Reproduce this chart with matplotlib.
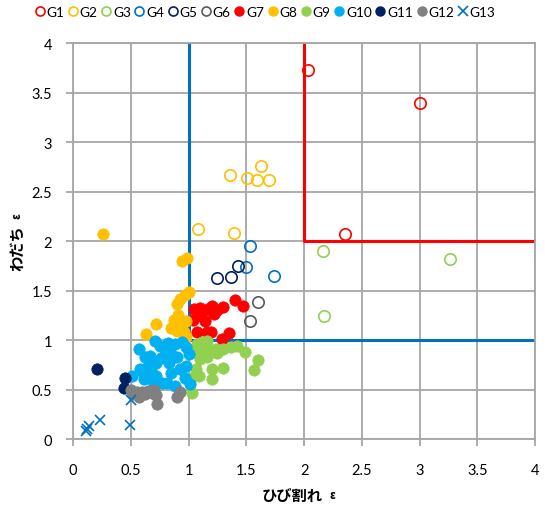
import matplotlib
matplotlib.use("Agg")
import matplotlib.pyplot as plt
from matplotlib.lines import Line2D

plt.rcParams['font.family'] = ['Lato', 'Noto Sans CJK JP', 'DejaVu Sans']

# ---- data ----
g1_x = [2.03, 3.00, 2.35]
g1_y = [3.73, 3.39, 2.07]
g2_x = [1.36, 1.51, 1.63, 1.59, 1.70, 1.08, 1.39]
g2_y = [2.67, 2.64, 2.76, 2.62, 2.62, 2.12, 2.08]
g3_x = [2.16, 2.17, 3.26]
g3_y = [1.90, 1.24, 1.82]
g4_x = [1.53, 1.50, 1.74]
g4_y = [1.95, 1.74, 1.65]
g5_x = [1.25, 1.37, 1.43]
g5_y = [1.63, 1.64, 1.75]
g6_x = [1.60, 1.53]
g6_y = [1.38, 1.19]
g7_x = [1.05, 1.10, 1.20, 1.22, 1.30, 1.40, 1.47, 1.04, 1.14, 1.07, 1.16, 1.19,
        1.29, 1.35, 1.12, 1.17, 1.09, 1.25]
g7_y = [1.31, 1.32, 1.34, 1.26, 1.33, 1.40, 1.34, 1.20, 1.19, 1.08, 1.08, 1.08,
        1.01, 1.07, 1.28, 1.31, 1.25, 1.30]
g8_x = [1.00, 0.97, 0.93, 0.90, 0.91, 0.87, 0.88, 0.94, 0.98, 0.85, 0.90, 0.96,
        0.72, 0.63, 0.98, 0.26, 0.94, 0.99]
g8_y = [1.48, 1.45, 1.41, 1.36, 1.25, 1.20, 1.15, 1.16, 1.19, 1.12, 1.09, 1.08,
        1.16, 1.06, 1.03, 2.07, 1.80, 1.83]
g9_x = [1.07, 1.16, 1.20, 1.24, 1.30, 1.37, 1.42, 1.49, 1.60, 1.57, 1.30, 1.20,
        1.20, 1.09, 1.06, 1.10, 1.16, 1.03, 1.05, 1.10, 1.02, 1.15, 1.25, 1.12]
g9_y = [0.96, 0.99, 0.89, 0.91, 0.91, 0.93, 0.94, 0.88, 0.80, 0.70, 0.72, 0.71,
        0.61, 0.64, 0.71, 0.81, 0.83, 0.46, 0.88, 0.93, 0.62, 0.88, 0.87, 0.98]
g10_x = [0.57, 0.62, 0.67, 0.71, 0.75, 0.80, 0.84, 0.88, 0.94, 0.98, 1.00, 0.65,
         0.72, 0.68, 0.60, 0.61, 0.72, 0.77, 0.85, 0.81, 0.88, 0.97, 0.98, 1.01,
         0.51, 0.83, 0.90, 0.93, 0.58, 0.82, 0.69, 0.76]
g10_y = [0.91, 0.83, 0.84, 0.99, 0.94, 0.91, 0.88, 0.96, 0.98, 0.93, 0.86, 0.74,
         0.77, 0.67, 0.69, 0.61, 0.64, 0.57, 0.67, 0.57, 0.54, 0.62, 0.74, 0.56,
         0.64, 0.77, 0.83, 0.71, 0.71, 0.97, 0.59, 0.82]
g11_x = [0.21, 0.45, 0.44]
g11_y = [0.71, 0.62, 0.52]
g12_x = [0.50, 0.52, 0.55, 0.57, 0.60, 0.62, 0.65, 0.68, 0.70, 0.72, 0.73, 0.90, 0.93]
g12_y = [0.50, 0.45, 0.47, 0.42, 0.47, 0.45, 0.48, 0.46, 0.50, 0.44, 0.35, 0.42, 0.47]
g13_x = [0.11, 0.12, 0.14, 0.23, 0.49, 0.50]
g13_y = [0.08, 0.10, 0.13, 0.19, 0.14, 0.39]

blue_x = [1, 1, 4]
blue_y = [4, 1, 1]
red_x = [2, 2, 4]
red_y = [4, 2, 2]

x_label = "ひび割れ"
y_label = "わだち"

# ---- figure ----
fig = plt.figure(figsize=(5.45, 5.06), dpi=100)
ax = fig.add_axes([0.134, 0.1304, 0.848, 0.7826])

grid_c = '#A6A6A6'
ax.set_xlim(0, 4)
ax.set_ylim(0, 4)
ax.set_xticks([0, 0.5, 1, 1.5, 2, 2.5, 3, 3.5, 4])
ax.set_yticks([0, 0.5, 1, 1.5, 2, 2.5, 3, 3.5, 4])
ax.set_xticklabels(['0', '0.5', '1', '1.5', '2', '2.5', '3', '3.5', '4'])
ax.set_yticklabels(['0', '0.5', '1', '1.5', '2', '2.5', '3', '3.5', '4'])
ax.grid(True, color=grid_c, linewidth=1.3, zorder=0)
ax.set_axisbelow(True)
for s in ax.spines.values():
    s.set_color(grid_c)
    s.set_linewidth(1.3)
ax.tick_params(axis='both', colors=grid_c, length=5, width=1.3, direction='out',
               labelcolor='#000000', labelsize=10.5, pad=10)
ax.tick_params(axis='x', pad=12)

ax.plot(blue_x, blue_y, color='#0070C0', linewidth=2.2, zorder=2)
ax.plot(red_x, red_y, color='#FF0000', linewidth=2.2, zorder=2)

ms = 8.2
hollow = [(g1_x, g1_y, '#FF0000', 'G1'), (g2_x, g2_y, '#FFC000', 'G2'),
          (g3_x, g3_y, '#92D050', 'G3'), (g4_x, g4_y, '#0070C0', 'G4'),
          (g5_x, g5_y, '#002060', 'G5'), (g6_x, g6_y, '#595959', 'G6')]
filled = [(g7_x, g7_y, '#FF0000', 'G7'), (g8_x, g8_y, '#FFC000', 'G8'),
          (g9_x, g9_y, '#92D050', 'G9'), (g10_x, g10_y, '#00B0F0', 'G10'),
          (g11_x, g11_y, '#002060', 'G11'), (g12_x, g12_y, '#808080', 'G12')]

handles = []
for xs, ys, c, lab in hollow:
    ax.plot(xs, ys, linestyle='none', marker='o', markersize=ms,
            markerfacecolor='none', markeredgecolor=c, markeredgewidth=1.2, zorder=3)
    handles.append(Line2D([], [], linestyle='none', marker='o', markersize=6.5,
                          markerfacecolor='none', markeredgecolor=c,
                          markeredgewidth=1.2, label=lab))
for xs, ys, c, lab in filled:
    ax.plot(xs, ys, linestyle='none', marker='o', markersize=ms,
            markerfacecolor=c, markeredgecolor=c, markeredgewidth=0.5, zorder=3)
    handles.append(Line2D([], [], linestyle='none', marker='o', markersize=6.5,
                          markerfacecolor=c, markeredgecolor=c, label=lab))
ax.plot(g13_x, g13_y, linestyle='none', marker='x', markersize=7.5,
        markeredgecolor='#0070C0', markeredgewidth=1.2, zorder=3)
handles.append(Line2D([], [], linestyle='none', marker='x', markersize=6.5,
                      markeredgecolor='#0070C0', markeredgewidth=1.2, label='G13'))

fig.legend(handles=handles, loc='center', bbox_to_anchor=(0.487, 0.974), ncol=13,
           frameon=False, fontsize=9.8, handlelength=0.6, handletextpad=0.2,
           columnspacing=0.33, borderpad=0.1)

jp = ['Noto Sans CJK JP', 'DejaVu Sans']
fig.text(0.592, 0.02, x_label, fontsize=11, fontweight='bold', family=jp,
         ha='right', va='center')
fig.text(0.605, 0.02, 'ε', fontsize=8, fontweight='bold', family=jp,
         ha='left', va='center')
fig.text(0.032, 0.555, y_label, fontsize=11, fontweight='bold', family=jp,
         rotation=90, ha='center', va='top')
fig.text(0.032, 0.568, 'ε', fontsize=8, fontweight='bold', family=jp,
         rotation=90, ha='center', va='bottom')

fig.savefig('out.png', dpi=100)
